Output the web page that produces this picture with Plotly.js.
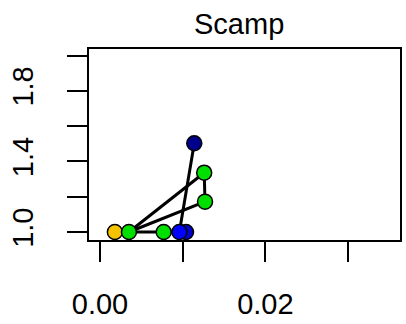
<!DOCTYPE html>
<html>
<head>
<meta charset="utf-8">
<script src="https://cdn.plot.ly/plotly-3.0.1.min.js"></script>
<style>html,body{margin:0;padding:0;background:#fff;}#chart{width:406px;height:324px;}</style>
</head>
<body>
<div id="chart"></div>
<script>
// Point data
var pointX = [0.0018, 0.0035, 0.0077, 0.0104, 0.0096, 0.0126, 0.0127, 0.0114];
var pointY = [1.0, 1.0, 1.0, 1.0, 1.0, 1.336, 1.172, 1.503];
var pointColors = ['#F5C400', '#00E000', '#00E000', '#0000CD', '#0000FF', '#00E000', '#00E000', '#00008B'];
// Connections between points (index pairs)
var segFrom = [0, 1, 2, 4, 1, 1, 5, 7];
var segTo   = [1, 2, 4, 3, 5, 6, 6, 4];
// Axis ticks
var xTickVals = [0, 0.01, 0.02, 0.03];
var xTickText = ['0.00', '', '0.02', ''];
var yTickVals = [1.0, 1.2, 1.4, 1.6, 1.8, 2.0];
var yTickText = ['1.0', '', '1.4', '', '1.8', ''];
var titleText = 'Scamp';

var lx = [], ly = [];
for (var i = 0; i < segFrom.length; i++) {
  lx.push(pointX[segFrom[i]], pointX[segTo[i]], null);
  ly.push(pointY[segFrom[i]], pointY[segTo[i]], null);
}

var traces = [
  {x: lx, y: ly, mode: 'lines', type: 'scatter', line: {color: '#000', width: 3}, hoverinfo: 'skip', connectgaps: false},
  {x: pointX, y: pointY, mode: 'markers', type: 'scatter',
   marker: {size: 15, color: pointColors, line: {color: '#000', width: 1.5}}}
];

var font = {family: '"Liberation Sans", Arial, Helvetica, sans-serif', color: '#000'};

var layout = {
  width: 406, height: 324,
  margin: {l: 89, r: 6, t: 49, b: 84, pad: 0},
  paper_bgcolor: '#fff', plot_bgcolor: '#fff',
  showlegend: false,
  font: font,
  title: {text: titleText, font: {family: font.family, size: 29, color: '#000'},
          xref: 'container', x: 0.589, xanchor: 'center', yref: 'container', y: 0.926, yanchor: 'middle'},
  xaxis: {range: [-0.00133, 0.03628], showgrid: false, zeroline: false,
          showline: true, mirror: true, linecolor: '#000', linewidth: 2,
          ticks: 'outside', ticklen: 20, tickwidth: 2, tickcolor: '#000',
          tickmode: 'array', tickvals: xTickVals, ticktext: xTickText,
          tickfont: {family: font.family, size: 29, color: '#000'}, ticklabelstandoff: 17},
  yaxis: {range: [0.9547, 2.0368], showgrid: false, zeroline: false,
          showline: true, mirror: true, linecolor: '#000', linewidth: 2,
          ticks: 'outside', ticklen: 20, tickwidth: 2, tickcolor: '#000',
          tickmode: 'array', tickvals: yTickVals, ticktext: yTickText, tickangle: -90,
          tickfont: {family: font.family, size: 29, color: '#000'}, ticklabelstandoff: 22}
};

Plotly.newPlot('chart', traces, layout, {staticPlot: true, displayModeBar: false});
</script>
</body>
</html>
